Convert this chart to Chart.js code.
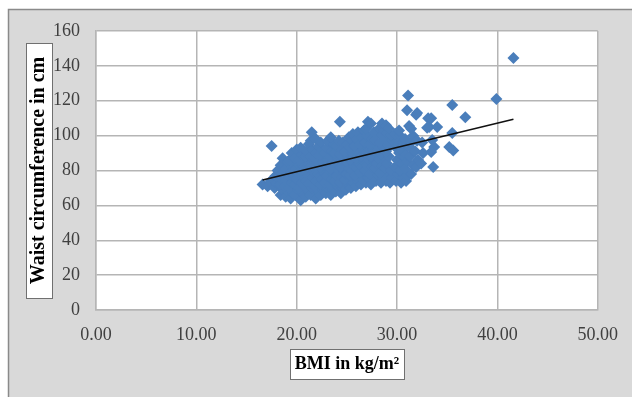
<!DOCTYPE html>
<html><head><meta charset="utf-8">
<script src="https://cdn.jsdelivr.net/npm/chart.js@4.4.1/dist/chart.umd.min.js"></script>
<style>html,body{margin:0;padding:0;background:#fff;}canvas{display:block;}</style>
</head><body>
<canvas id="c" width="632" height="397"></canvas>
<script>
const bmi = [
16.6,17.1,17.4,17.5,
17.8,18.0,17.9,18.1,
18.4,18.6,18.3,18.5,18.7,18.4,18.6,
18.9,19.1,18.8,19.0,19.2,18.9,19.1,
19.4,19.6,19.3,19.5,19.7,19.4,19.6,19.3,19.5,
19.9,20.1,19.8,20.0,20.2,19.9,20.1,19.8,20.0,
20.4,20.6,20.3,20.5,20.7,20.4,20.6,20.3,20.5,20.4,
20.9,21.1,20.8,21.0,21.2,20.9,21.1,20.8,21.0,21.2,
21.4,21.6,21.3,21.5,21.7,21.4,21.6,21.3,21.5,21.4,21.5,
21.9,22.1,21.8,22.0,22.2,21.9,22.1,21.8,22.0,22.2,21.9,
22.4,22.6,22.3,22.5,22.7,22.4,22.6,22.3,22.5,22.4,
22.9,23.1,22.8,23.0,23.2,22.9,23.1,22.8,23.0,23.1,
23.4,23.6,23.3,23.5,23.7,23.4,23.6,23.3,23.5,23.7,23.4,
23.9,24.1,23.8,24.0,24.2,23.9,24.1,23.8,24.0,24.2,
24.4,24.6,24.3,24.5,24.7,24.4,24.6,24.3,24.5,24.6,24.3,
24.9,25.1,24.8,25.0,25.2,24.9,25.1,24.8,25.0,25.2,
25.4,25.6,25.3,25.5,25.7,25.4,25.6,25.3,25.5,25.6,
25.9,26.1,25.8,26.0,26.2,25.9,26.1,25.8,26.0,26.1,
26.4,26.6,26.3,26.5,26.7,26.4,26.6,26.3,26.5,26.7,
26.9,27.1,26.8,27.0,27.2,26.9,27.1,26.8,27.0,26.9,27.1,
27.4,27.6,27.3,27.5,27.7,27.4,27.6,27.3,27.5,27.7,27.4,
27.9,28.1,27.8,28.0,28.2,27.9,28.1,27.8,28.0,28.2,
28.4,28.6,28.3,28.5,28.7,28.4,28.6,28.3,28.5,28.7,28.5,
28.9,29.1,28.8,29.0,29.2,28.9,29.1,28.8,29.0,28.9,
29.3,29.5,29.4,29.3,29.5,29.4,29.2,
29.9,30.1,29.8,30.0,30.2,29.9,30.1,29.8,
30.4,30.6,30.3,30.5,30.7,30.4,30.6,30.3,30.2,
30.9,31.0,30.8,31.0,30.9,31.1,30.8,31.2,31.0,31.1,
31.4,31.6,31.3,31.5,31.4,31.6,31.4,
31.9,32.1,31.8,32.0,31.9,32.0,
32.4,32.6,32.5,33.1,33.2,33.0,33.4,33.5,33.7,33.4,33.6,34.0,35.5,36.8,35.5,35.2,35.6,39.9,41.6
];
const waist = [
72,71,74,94,
70,73,77,80,
66,69,72,75,79,83,87,
65,68,71,74,77,81,85,
64,67,70,73,76,79,82,86,90,
66,69,72,75,78,81,84,87,92,
63,67,70,73,76,80,83,86,89,93,
65,68,71,74,77,81,84,88,91,95,
66,70,73,76,79,82,85,88,92,97,102,
64,68,71,74,78,81,84,87,90,94,98,
66,69,72,75,79,82,85,89,92,96,
67,70,73,77,80,83,86,90,93,97,
66,69,72,75,78,81,85,88,91,95,99,
68,71,74,77,80,84,87,90,94,97,
67,70,73,76,79,82,86,89,92,96,108,
69,72,75,78,81,85,88,91,95,99,
70,73,77,80,83,86,90,93,97,101,
71,74,77,81,84,87,91,94,98,102,
72,75,79,82,85,88,92,95,99,103,
73,76,80,83,86,90,93,96,100,104,108,
72,75,78,82,85,88,92,95,98,102,107,
74,77,81,84,87,91,94,97,101,104,
73,76,79,83,86,89,93,96,100,103,107,
74,78,81,84,88,91,95,98,102,106,
73,76,80,94,97,100,104,
74,78,82,86,90,93,97,101,
73,76,80,84,88,92,96,100,103,
74,77,81,85,89,94,98,105.5,114.5,123,
78,83,88,92,96,100,104,
82,86,91,97,112,113,
84,90,96,110,105,104.5,110,97.5,93.5,90.6,82,105,117.5,110.6,101.5,93.5,91.5,121,144.5
];
const trendBmi = [16.6, 41.6];
const trendWaist = [74.5, 109.4];
const xTickLabels = ['0.00','10.00','20.00','30.00','40.00','50.00'];
const yTickValues = [0,20,40,60,80,100,120,140,160];
const xTitle = 'BMI in kg/m²';
const yTitle = 'Waist circumference in cm';

const Y_TITLE_FONT = 20, X_TITLE_FONT = 18;
const Y_TITLE_PAD = 3, X_TITLE_PAD = 22;

const framePlugin = {
  id: 'frame',
  beforeDraw(chart) {
    const ctx = chart.ctx, a = chart.chartArea;
    ctx.save();
    ctx.fillStyle = '#ffffff';
    ctx.fillRect(0, 0, chart.width, chart.height);
    ctx.fillStyle = '#d9d9d9';
    ctx.fillRect(8, 9, chart.width - 8, chart.height - 9);
    ctx.strokeStyle = '#8a8a8a';
    ctx.lineWidth = 1.5;
    ctx.beginPath();
    ctx.moveTo(8.5, chart.height); ctx.lineTo(8.5, 9.5); ctx.lineTo(chart.width, 9.5);
    ctx.stroke();
    ctx.fillStyle = '#ffffff';
    ctx.fillRect(a.left, a.top, a.right - a.left, a.bottom - a.top);
    const ys = chart.scales.y, xs = chart.scales.x;
    const ycx = ys.left + Y_TITLE_PAD + Y_TITLE_FONT * 1.2 / 2;
    const ycy = (a.top + a.bottom) / 2;
    const xcx = (xs.left + xs.right) / 2;
    const xcy = xs.bottom - X_TITLE_PAD - X_TITLE_FONT * 1.2 / 2;
    ctx.fillStyle = '#ffffff';
    ctx.strokeStyle = '#707070';
    ctx.lineWidth = 1;
    const bw = 26, bh = 255;
    ctx.fillRect(Math.round(ycx - bw/2), Math.round(ycy - bh/2), bw, bh);
    ctx.strokeRect(Math.round(ycx - bw/2) + 0.5, Math.round(ycy - bh/2) + 0.5, bw, bh);
    const cw = 114, ch = 30;
    ctx.fillRect(Math.round(xcx - cw/2), Math.round(xcy - ch/2), cw, ch);
    ctx.strokeRect(Math.round(xcx - cw/2) + 0.5, Math.round(xcy - ch/2) + 0.5, cw, ch);
    ctx.restore();
  }
};

const gridColor = '#b5b5b5';
new Chart(document.getElementById('c'), {
  type: 'scatter',
  data: {
    datasets: [
      {
        type: 'line',
        data: trendBmi.map((x, i) => ({x, y: trendWaist[i]})),
        borderColor: '#111111',
        borderWidth: 1.5,
        pointRadius: 0,
        fill: false,
        order: 0
      },
      {
        data: bmi.map((x, i) => ({x, y: waist[i]})),
        pointStyle: 'rectRot',
        pointRadius: 6,
        backgroundColor: '#4a7ebb',
        borderColor: '#4a7ebb',
        borderWidth: 0,
        order: 1
      }
    ]
  },
  options: {
    responsive: false,
    animation: false,
    events: [],
    layout: { padding: { left: 24, top: 31, right: 33, bottom: 0 } },
    plugins: { legend: { display: false }, tooltip: { enabled: false } },
    scales: {
      x: {
        type: 'linear', min: 0, max: 50,
        afterFit(s) { s.height = 87; },
        afterBuildTicks(s) { s.ticks = xTickLabels.map((l, i) => ({ value: i * 10 })); },
        ticks: {
          padding: 14, color: '#404040',
          font: { family: 'Liberation Serif', size: 18 },
          callback: (v, i) => xTickLabels[i]
        },
        grid: { color: gridColor, lineWidth: 1.5, drawTicks: false },
        border: { color: gridColor, width: 1.5 },
        title: {
          display: true, text: xTitle, color: '#000',
          font: { family: 'Liberation Serif', size: X_TITLE_FONT, weight: 'bold' },
          padding: { top: 0, bottom: X_TITLE_PAD }
        }
      },
      y: {
        type: 'linear', min: 0, max: 160,
        afterFit(s) { s.width = 72; },
        afterBuildTicks(s) { s.ticks = yTickValues.map(v => ({ value: v })); },
        ticks: {
          padding: 16, color: '#404040',
          font: { family: 'Liberation Serif', size: 18 },
          callback: (v) => String(v)
        },
        grid: { color: gridColor, lineWidth: 1.5, drawTicks: false },
        border: { color: gridColor, width: 1.5 },
        title: {
          display: true, text: yTitle, color: '#000',
          font: { family: 'Liberation Serif', size: Y_TITLE_FONT, weight: 'bold' },
          padding: { top: Y_TITLE_PAD, bottom: 0 }
        }
      }
    }
  },
  plugins: [framePlugin]
});
</script>
</body></html>
